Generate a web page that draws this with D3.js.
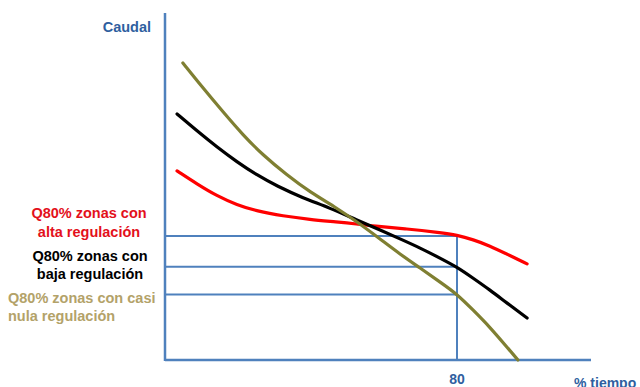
<!DOCTYPE html>
<html><head><meta charset="utf-8">
<script src="https://cdn.jsdelivr.net/npm/d3@7"></script>
<style>body{margin:0;background:#fff}svg{display:block}</style>
</head><body>
<svg id="c" width="640" height="387"></svg>
<script>
// % tiempo vs caudal (arbitrary units 0-100)
const tiempoOlive = [4.9, 10.4, 15.9, 21.4, 26.8, 33.4, 39.7, 47.1, 53.4, 58.9, 64.4, 69.9, 75.3, 80, 84.4, 89.0, 93.7, 96.7];
const caudalOlive = [85.6, 78.4, 71.5, 64.8, 59.1, 53.3, 48.4, 43.8, 39.2, 34.9, 30.5, 26.5, 22.5, 19.0, 14.4, 9.5, 3.7, 0];
const tiempoBlack = [3.3, 8.8, 14.2, 19.7, 25.2, 30.7, 37.8, 45.2, 52.6, 58.9, 64.4, 69.9, 75.3, 80, 84.4, 89.0, 93.7, 99.2];
const caudalBlack = [70.9, 66.0, 61.4, 57.1, 53.3, 50.1, 46.7, 43.8, 40.3, 37.5, 34.9, 32.3, 29.4, 26.8, 23.6, 20.2, 16.4, 12.1];
const tiempoRed = [3.3, 8.8, 14.2, 19.7, 25.2, 32.3, 39.7, 47.1, 52.6, 57.0, 66.3, 75.3, 80, 84.4, 89.0, 93.7, 99.2];
const caudalRed = [54.5, 50.7, 47.3, 44.7, 42.9, 41.5, 40.5, 39.8, 39.2, 38.6, 37.8, 36.7, 36.0, 34.7, 32.9, 30.5, 27.7];
const q80Values = [35.7, 26.9, 18.9];
const q80Tick = 80;
const labels = [
  ["Q80% zonas con", "alta regulación"],
  ["Q80% zonas con", "baja regulación"],
  ["Q80% zonas con casi", "nula regulación"]
];

const svg = d3.select("#c");
const x = d3.scaleLinear().domain([0, 100]).range([165, 530]);
const y = d3.scaleLinear().domain([0, 100]).range([360, 13]);
const blue = "#4F81BD";
const textBlue = "#2F5F9F";
const font = "'Liberation Sans', Arial, sans-serif";

// reference lines
q80Values.forEach(v => {
  svg.append("line").attr("x1", x(0)).attr("x2", x(q80Tick))
    .attr("y1", y(v)).attr("y2", y(v))
    .attr("stroke", blue).attr("stroke-width", 2);
});
svg.append("line").attr("x1", x(q80Tick)).attr("x2", x(q80Tick))
  .attr("y1", y(q80Values[0])).attr("y2", y(0))
  .attr("stroke", blue).attr("stroke-width", 2);

// axes
svg.append("line").attr("x1", x(0)).attr("x2", x(0)).attr("y1", y(100)).attr("y2", y(0) + 1)
  .attr("stroke", blue).attr("stroke-width", 2.5);
svg.append("line").attr("x1", x(0)).attr("x2", 591).attr("y1", y(0)).attr("y2", y(0))
  .attr("stroke", blue).attr("stroke-width", 2.5);

// curves
const line = d3.line().x(d => x(d[0])).y(d => y(d[1])).curve(d3.curveBasis);
function curve(t, q, color) {
  svg.append("path").datum(t.map((v, i) => [v, q[i]]))
    .attr("d", line).attr("fill", "none").attr("stroke", color)
    .attr("stroke-width", 3.2).attr("stroke-linecap", "round");
}
curve(tiempoRed, caudalRed, "#FF0000");
curve(tiempoBlack, caudalBlack, "#000000");
curve(tiempoOlive, caudalOlive, "#7F7F32");

// texts
svg.append("text").attr("x", 151).attr("y", 32).attr("text-anchor", "end")
  .attr("font-family", font).attr("font-weight", "bold").attr("font-size", 14.5)
  .attr("fill", textBlue).text("Caudal");
svg.append("text").attr("x", x(q80Tick)).attr("y", 384).attr("text-anchor", "middle")
  .attr("font-family", font).attr("font-weight", "bold").attr("font-size", 14)
  .attr("fill", textBlue).text("80");
svg.append("text").attr("x", 574).attr("y", 388)
  .attr("font-family", font).attr("font-weight", "bold").attr("font-size", 14)
  .attr("fill", textBlue).text("% tiempo");

const labelColors = ["#E3101B", "#000000", "#B3A269"];
const labelPos = [
  {x: 89, anchor: "middle", y: [218, 237]},
  {x: 90, anchor: "middle", y: [261, 279]},
  {x: 8, anchor: "start", y: [303, 321]}
];
labels.forEach((ls, i) => {
  ls.forEach((s, j) => {
    svg.append("text").attr("x", labelPos[i].x).attr("y", labelPos[i].y[j])
      .attr("text-anchor", labelPos[i].anchor)
      .attr("font-family", font).attr("font-weight", "bold").attr("font-size", 14.5)
      .attr("fill", labelColors[i]).text(s);
  });
});
</script>
</body></html>
